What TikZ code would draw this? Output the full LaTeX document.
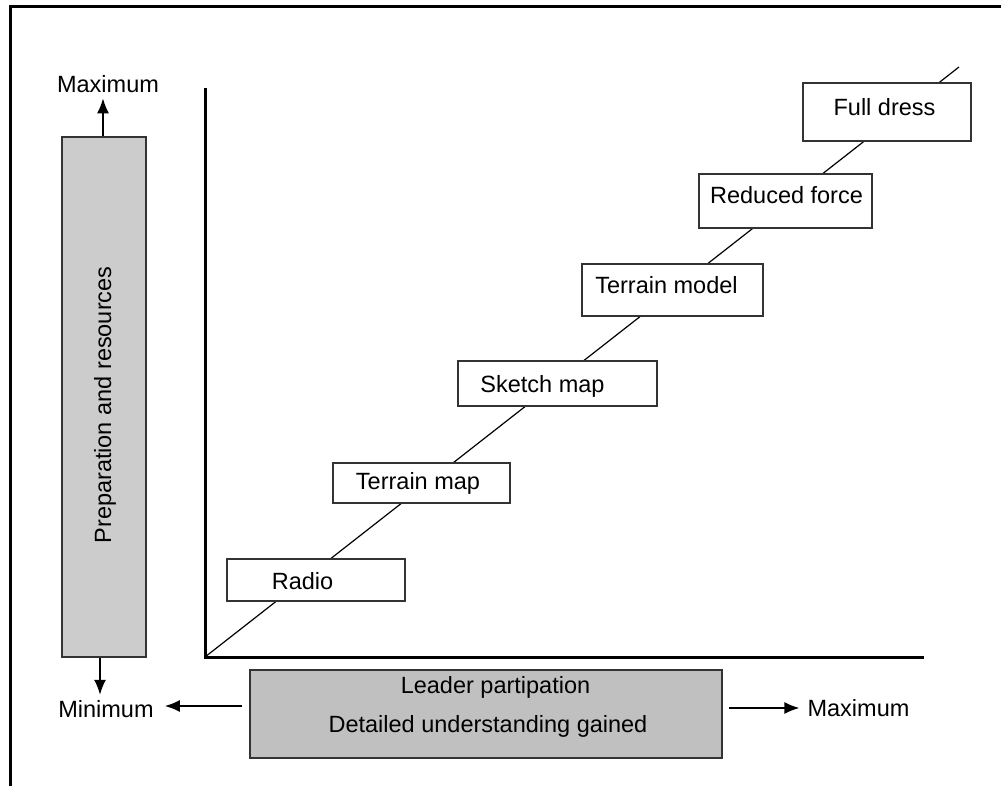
\documentclass[tikz,border=0pt]{standalone}
\usepackage{fontspec}
\setmainfont{Liberation Sans}
\usetikzlibrary{arrows.meta}
\definecolor{barfill}{HTML}{CCCCCC}
\definecolor{leadfill}{HTML}{C0C0C0}
\definecolor{edge}{HTML}{333333}
\begin{document}
\begin{tikzpicture}[x=1pt,y=-1pt,
  txt/.style={font=\fontsize{23.5}{28}\selectfont, inner sep=0pt, anchor=base},
  stagebox/.style={draw=edge, line width=1.5pt, fill=white, inner sep=0pt},
  graybox/.style={draw=edge, line width=1.5pt, inner sep=0pt},
  arr/.style={line width=1.5pt, -{Latex[length=15pt,width=12pt]}}
]
\useasboundingbox (0,0) rectangle (1001,786);
% frame
\draw[line width=3pt] (10,786) -- (10,6.5) -- (1001,6.5);

% left bar
\node[graybox, fill=barfill, minimum width=84pt, minimum height=520pt] (prep) at (104,397) {};
\node[txt, rotate=90] (preptxt) at (111,405) {Preparation and resources};
\node[txt] (maxtop) at (108,93) {Maximum};
\node[txt] (mintxt) at (106,717) {Minimum};
\draw[arr, shorten >=5pt] ([xshift=-1pt]prep.north) -- ([xshift=-1pt]prep.north |- maxtop.south);
\draw[arr, shorten >=5pt] ([xshift=-4pt]prep.south) -- ([xshift=-4pt]prep.south |- mintxt.north);

% axes
\coordinate (O) at (205,657);
\coordinate (ytop) at (205,88);
\coordinate (xend) at (924,657);
\coordinate (dend) at (959,67);
\draw[line width=1.2pt] (O) -- (dend);
\draw[line width=3pt] (ytop) -- (O) -- (xend);

% stage boxes
\node[stagebox, minimum width=178pt, minimum height=42pt] (radio) at (316,580) {};
\node[stagebox, minimum width=177pt, minimum height=40pt] (tmap) at (421.5,483) {};
\node[stagebox, minimum width=199pt, minimum height=45pt] (smap) at (557.5,383.5) {};
\node[stagebox, minimum width=181pt, minimum height=52pt] (tmodel) at (672.5,290) {};
\node[stagebox, minimum width=173pt, minimum height=54pt] (rforce) at (785.5,201) {};
\node[stagebox, minimum width=168pt, minimum height=58pt] (fdress) at (887,112) {};

\node[txt] (radiotxt) at (302.5,589) {Radio};
\node[txt] (tmaptxt) at (418,489) {Terrain map};
\node[txt] (smaptxt) at (542.5,392) {Sketch map};
\node[txt] (tmodeltxt) at (666.5,294) {Terrain model};
\node[txt] (rforcetxt) at (786.5,204) {Reduced force};
\node[txt] (fdresstxt) at (884.5,116) {Full dress};

% bottom box
\node[graybox, fill=leadfill, minimum width=472pt, minimum height=88pt] (lead) at (486,714) {};
\node[txt] (leadtxt1) at (495.5,693) {Leader partipation};
\node[txt] (leadtxt2) at (488,732) {Detailed understanding gained};
\node[txt] (maxright) at (858.5,716) {Maximum};

\draw[arr, shorten <=7pt, shorten >=11pt] ([yshift=8pt]lead.west) -- ([yshift=8pt]lead.west -| mintxt.east);
\draw[arr, shorten <=6pt, shorten >=8pt] ([yshift=6pt]lead.east) -- ([yshift=6pt]lead.east -| maxright.west);
\end{tikzpicture}
\end{document}
